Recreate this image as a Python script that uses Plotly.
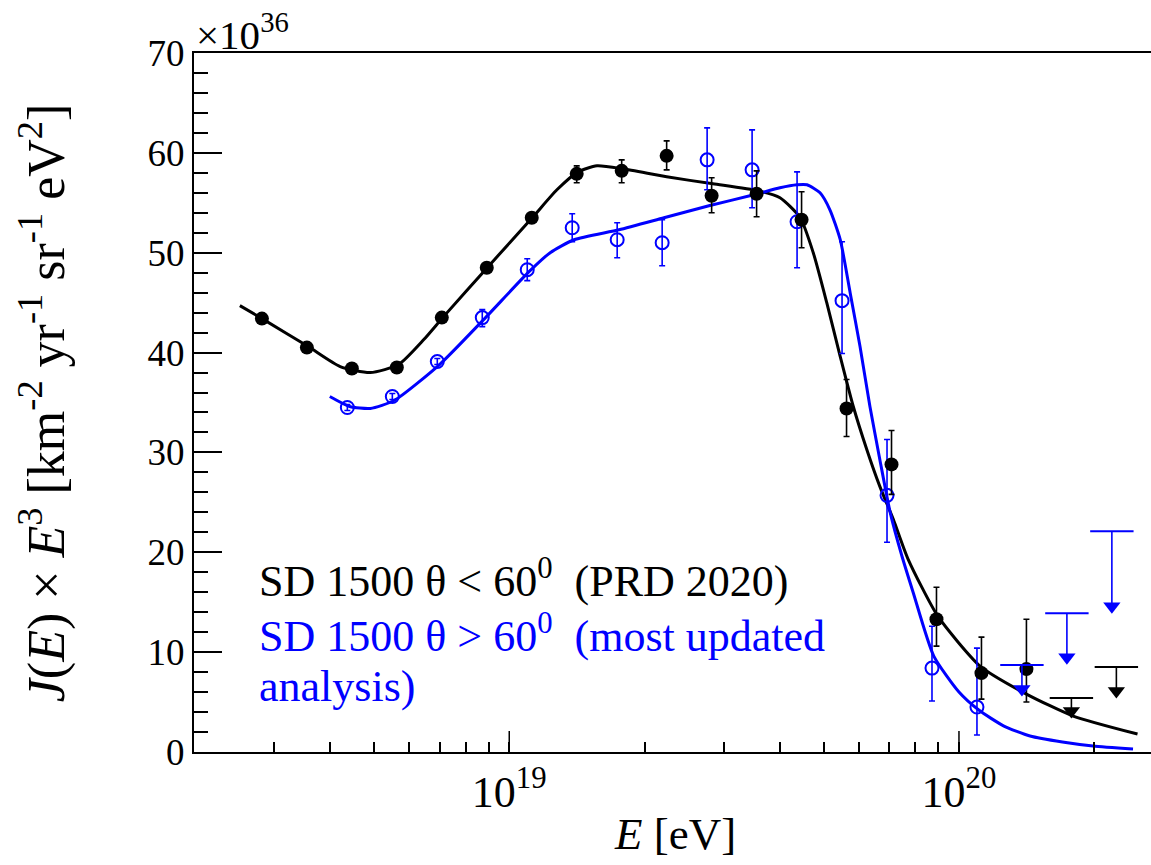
import math
import plotly.graph_objects as go

# ---------------- data (log10 E, J*E^3 in units of 1e36) ----------------
black_logE = [18.45, 18.55, 18.65, 18.75, 18.85, 18.95, 19.05, 19.15, 19.25, 19.35,
              19.45, 19.55, 19.65, 19.75, 19.85, 19.95, 20.05, 20.15]
black_val = [43.4, 40.5, 38.4, 38.5, 43.5, 48.5, 53.5, 57.9, 58.2, 59.7,
             55.7, 55.9, 53.3, 34.4, 28.8, 13.3, 7.9, 8.3]
black_err_up = [0.3, 0.3, 0.3, 0.3, 0.4, 0.4, 0.5, 0.8, 1.1, 1.5,
                1.8, 2.3, 2.8, 2.9, 3.4, 3.2, 3.6, 5.0]
black_err_dn = [0.3, 0.3, 0.3, 0.3, 0.4, 0.4, 0.5, 0.9, 1.2, 1.4,
                1.7, 2.3, 2.8, 2.8, 3.0, 2.7, 2.6, 3.3]
black_ul_logE = [20.25, 20.35]
black_ul_val = [5.4, 8.5]
black_ul_tip = [4.1, 6.1]

blue_logE = [18.64, 18.74, 18.84, 18.94, 19.04, 19.14, 19.24, 19.34, 19.44, 19.54,
             19.64, 19.74, 19.84, 19.94, 20.04]
blue_val = [34.5, 35.6, 39.1, 43.5, 48.3, 52.5, 51.3, 51.0, 59.3, 58.3,
            53.1, 45.2, 25.7, 8.4, 4.5]
blue_err_up = [0.3, 0.3, 0.3, 0.8, 1.1, 1.4, 1.7, 2.3, 3.2, 4.0,
               5.0, 5.9, 5.6, 4.2, 5.9]
blue_err_dn = [0.3, 0.3, 0.3, 0.9, 1.1, 1.4, 1.8, 2.3, 3.0, 3.8,
               4.6, 5.3, 4.7, 3.3, 2.8]
blue_ul_logE = [20.14, 20.24, 20.34]
blue_ul_val = [8.7, 13.9, 22.1]
blue_ul_tip = [6.3, 9.5, 14.6]

# fitted curves
black_fit_logE = [18.401, 18.454, 18.553, 18.624, 18.691, 18.754, 18.810, 18.854, 18.953,
                  19.053, 19.106, 19.153, 19.195, 19.253, 19.350, 19.453, 19.553, 19.602,
                  19.647, 19.676, 19.706, 19.736, 19.765, 19.795, 19.824, 19.854, 19.887,
                  19.953, 20.047, 20.150, 20.254, 20.397]
black_fit_val = [44.7, 43.3, 40.6, 38.6, 38.0, 38.8, 41.3, 43.6, 48.6,
                 53.6, 56.3, 58.1, 58.7, 58.4, 57.6, 56.9, 56.2, 55.5,
                 53.5, 50.0, 45.0, 39.6, 34.6, 30.3, 26.6, 23.3, 19.3,
                 13.6, 8.6, 5.8, 3.6, 1.8]
blue_fit_logE = [18.601, 18.645, 18.691, 18.744, 18.845, 18.943, 19.044, 19.091, 19.144,
                 19.244, 19.344, 19.444, 19.544, 19.602, 19.640, 19.662, 19.691, 19.713,
                 19.736, 19.758, 19.780, 19.802, 19.824, 19.847, 19.872, 19.898, 19.944,
                 20.000, 20.044, 20.100, 20.158, 20.230, 20.298, 20.387]
blue_fit_val = [35.6, 34.6, 34.4, 35.2, 38.8, 43.3, 48.1, 50.0, 51.3,
                52.3, 53.5, 54.7, 55.8, 56.5, 56.8, 56.8, 56.0, 54.3,
                51.3, 46.0, 40.6, 34.6, 29.3, 24.0, 19.8, 16.0, 9.6,
                6.0, 4.2, 2.6, 1.6, 1.0, 0.6, 0.3]

# axis tick decades
major_decades = [19, 20]

BLUE = "#0000ff"
BLACK = "#000000"
FONT = "Liberation Serif"


def E(vals):
    return [10.0 ** v for v in vals]


fig = go.Figure()

# fit curves
fig.add_trace(go.Scatter(x=E(black_fit_logE), y=black_fit_val, mode="lines",
                         line=dict(color=BLACK, width=3, shape="spline", smoothing=0.6),
                         showlegend=False, hoverinfo="skip"))
fig.add_trace(go.Scatter(x=E(blue_fit_logE), y=blue_fit_val, mode="lines",
                         line=dict(color=BLUE, width=3, shape="spline", smoothing=0.6),
                         showlegend=False, hoverinfo="skip"))

# data points
fig.add_trace(go.Scatter(x=E(blue_logE), y=blue_val, mode="markers",
                         marker=dict(symbol="circle-open", size=13, color=BLUE,
                                     line=dict(width=2, color=BLUE)),
                         error_y=dict(type="data", symmetric=False, array=blue_err_up,
                                      arrayminus=blue_err_dn, color=BLUE, thickness=1.6, width=3),
                         showlegend=False))
fig.add_trace(go.Scatter(x=E(black_logE), y=black_val, mode="markers",
                         marker=dict(symbol="circle", size=14, color=BLACK),
                         error_y=dict(type="data", symmetric=False, array=black_err_up,
                                      arrayminus=black_err_dn, color=BLACK, thickness=1.6, width=3),
                         showlegend=False))

# upper limits
for logE_, lim, tip, col in [(blue_ul_logE, blue_ul_val, blue_ul_tip, BLUE),
                             (black_ul_logE, black_ul_val, black_ul_tip, BLACK)]:
    fig.add_trace(go.Scatter(x=E(logE_), y=tip, mode="markers",
                             marker=dict(symbol="triangle-down", size=15, color=col),
                             error_y=dict(type="data", symmetric=False,
                                          array=[l - t for l, t in zip(lim, tip)],
                                          arrayminus=[0] * len(tip), color=col,
                                          thickness=1.6, width=0),
                             showlegend=False))
    fig.add_trace(go.Scatter(x=E(logE_), y=lim, mode="markers",
                             marker=dict(symbol="line-ew", size=31,
                                         line=dict(width=2, color=col)),
                             showlegend=False))

# legend text
TXT = 44
fig.add_annotation(xref="paper", yref="paper", x=0.066, y=0.248, xanchor="left", yanchor="middle",
                   text="SD 1500 θ &lt; 60<sup>0</sup>\u00a0\u00a0(PRD 2020)", showarrow=False,
                   font=dict(family=FONT, size=TXT, color=BLACK))
fig.add_annotation(xref="paper", yref="paper", x=0.066, y=0.170, xanchor="left", yanchor="middle",
                   text="SD 1500 θ &gt; 60<sup>0</sup>\u00a0\u00a0(most updated", showarrow=False,
                   font=dict(family=FONT, size=TXT, color=BLUE))
fig.add_annotation(xref="paper", yref="paper", x=0.066, y=0.094, xanchor="left", yanchor="middle",
                   text="analysis)", showarrow=False,
                   font=dict(family=FONT, size=TXT, color=BLUE))
fig.add_annotation(xref="paper", yref="paper", x=0.0, y=1.03, xanchor="left", yanchor="middle",
                   text="×10<sup>36</sup>", showarrow=False,
                   font=dict(family=FONT, size=41, color=BLACK))
# axis titles
fig.add_annotation(xref="paper", yref="paper", x=0.503, y=-0.118, xanchor="center",
                   yanchor="middle", text="<i>E</i> [eV]", showarrow=False,
                   font=dict(family=FONT, size=45, color=BLACK))
fig.add_annotation(xref="paper", yref="paper", x=-0.158, y=0.5, xanchor="center",
                   yanchor="middle", textangle=-90,
                   text="<i>J</i>(<i>E</i>) × <i>E</i><sup>3</sup> [km<sup>-2</sup> yr<sup>-1</sup> sr<sup>-1</sup> eV<sup>2</sup>]",
                   showarrow=False, font=dict(family=FONT, size=52, color=BLACK))

XR = [18.299, 20.427]
tick_vals, tick_text = [], []
for d in (18, 19, 20):
    for m in range(1, 10):
        lv = d + math.log10(m)
        if XR[0] <= lv <= XR[1]:
            tick_vals.append(m * 10.0 ** d)
            tick_text.append(f"10<sup>{d}</sup>" if (m == 1 and d in major_decades) else "")

# longer ticks at the decades
for d in major_decades:
    fig.add_shape(type="line", xref="x", yref="paper", x0=10.0 ** d, x1=10.0 ** d,
                  y0=0, y1=21 / 699, line=dict(color=BLACK, width=1.5), layer="above")

fig.update_layout(
    xaxis=dict(type="log", range=XR, tickmode="array", tickvals=tick_vals, ticktext=tick_text,
               ticks="inside", ticklen=10, tickwidth=1.5, tickcolor=BLACK,
               showline=True, linewidth=2, linecolor=BLACK, mirror=True,
               showgrid=False, zeroline=False, ticklabelstandoff=0,
               tickfont=dict(family=FONT, size=44, color=BLACK)),
    yaxis=dict(range=[0, 70], dtick=10, ticks="inside", ticklen=28, tickwidth=1.5,
               tickcolor=BLACK,
               minor=dict(ticks="inside", ticklen=14, tickwidth=1.5, tickcolor=BLACK, dtick=2,
                          showgrid=False),
               showline=True, linewidth=2, linecolor=BLACK, mirror=False,
               showgrid=False, zeroline=False,
               tickfont=dict(family=FONT, size=37, color=BLACK)),
    width=1151, height=865, margin=dict(l=194, r=0, t=53, b=113),
    plot_bgcolor="white", paper_bgcolor="white", showlegend=False)

fig.write_html("out.html")
